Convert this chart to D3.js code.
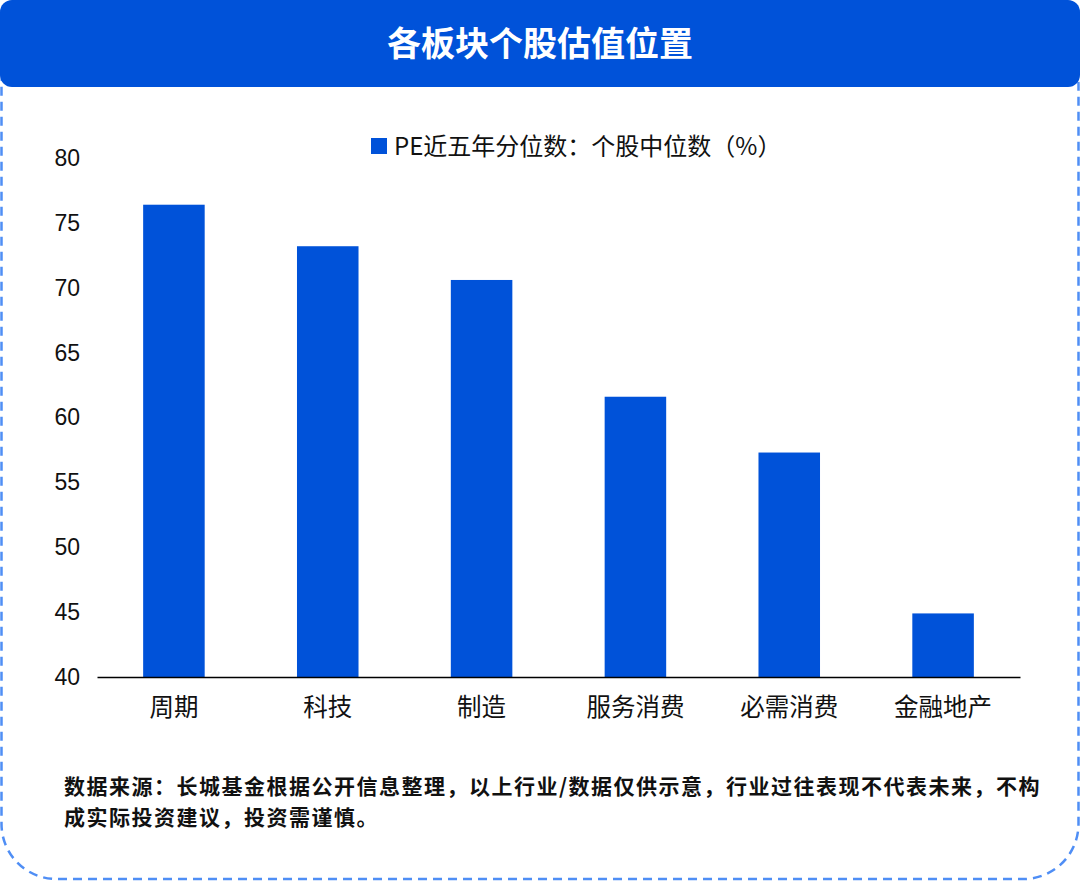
<!DOCTYPE html>
<html>
<head>
<meta charset="utf-8">
<script src="https://cdn.jsdelivr.net/npm/d3@7"></script>
<style>
  html, body { margin: 0; padding: 0; background: #fff; }
  svg { display: block; }
</style>
</head>
<body>
<svg width="1080" height="882"></svg>
<script>
// 数据
const categories = ["周期", "科技", "制造", "服务消费", "必需消费", "金融地产"];
const peValues = [76.4, 73.2, 70.6, 61.6, 57.3, 44.9];
const yTicks = [40, 45, 50, 55, 60, 65, 70, 75, 80];
const titleText = "各板块个股估值位置";
const legendText = "PE近五年分位数：个股中位数（%）";
const noteLines = [
  "数据来源：长城基金根据公开信息整理，以上行业/数据仅供示意，行业过往表现不代表未来，不构",
  "成实际投资建议，投资需谨慎。"
];

const svg = d3.select("svg"),
    width = +svg.attr("width"),
    height = +svg.attr("height");

const blue = "#0052d9";
const cjk = "'Noto Sans CJK SC', 'Noto Sans', sans-serif";

// 虚线外框
svg.append("rect")
    .attr("x", 1.5)
    .attr("y", 30)
    .attr("width", width - 3)
    .attr("height", 849)
    .attr("rx", 55)
    .attr("fill", "none")
    .attr("stroke", "#4f8ef5")
    .attr("stroke-width", 2.5)
    .attr("stroke-dasharray", "9 6");

// 标题栏
svg.append("rect")
    .attr("x", 0)
    .attr("y", 0)
    .attr("width", width)
    .attr("height", 87)
    .attr("rx", 12)
    .attr("fill", blue);

svg.append("text")
    .attr("x", width / 2)
    .attr("y", 44)
    .attr("dy", "0.36em")
    .attr("text-anchor", "middle")
    .attr("fill", "#fff")
    .style("font-family", cjk)
    .style("font-size", "34px")
    .style("font-weight", 700)
    .text(titleText);

// 比例尺
const x = d3.scaleBand()
    .domain(categories)
    .range([97, 1020])
    .paddingInner(0.6)
    .paddingOuter(0.3);

const y = d3.scaleLinear()
    .domain([40, 80])
    .range([677, 158]);

// 柱子
svg.append("g")
    .selectAll("rect")
    .data(categories)
    .enter().append("rect")
    .attr("x", d => x(d))
    .attr("y", (d, i) => y(peValues[i]))
    .attr("width", x.bandwidth())
    .attr("height", (d, i) => y(40) - y(peValues[i]))
    .attr("fill", blue);

// y 轴
const yAxis = svg.append("g")
    .attr("transform", "translate(88,0)")
    .call(d3.axisLeft(y).tickValues(yTicks).tickSize(0).tickPadding(8));
yAxis.select(".domain").remove();
yAxis.selectAll("text")
    .style("font-family", "'Liberation Sans', Arial, sans-serif")
    .style("font-size", "23px")
    .attr("fill", "#111");

// x 轴
const xAxis = svg.append("g")
    .attr("transform", `translate(0,${y(40)})`)
    .call(d3.axisBottom(x).tickSize(0).tickSizeOuter(0));
xAxis.select(".domain")
    .attr("stroke", "#000")
    .attr("stroke-width", 1.6);
xAxis.selectAll("text")
    .attr("y", 30)
    .attr("dy", "0.36em")
    .style("font-family", cjk)
    .style("font-size", "24.5px")
    .attr("fill", "#111");

// 图例
svg.append("rect")
    .attr("x", 371)
    .attr("y", 138)
    .attr("width", 16)
    .attr("height", 16)
    .attr("fill", blue);

svg.append("text")
    .attr("x", 394)
    .attr("y", 146)
    .attr("dy", "0.36em")
    .style("font-family", cjk)
    .style("font-size", "24px")
    .attr("fill", "#111")
    .text(legendText);

// 注释
svg.append("g")
    .selectAll("text")
    .data(noteLines)
    .enter().append("text")
    .attr("x", 64)
    .attr("y", (d, i) => 786 + i * 31)
    .attr("dy", "0.36em")
    .style("font-family", cjk)
    .style("font-size", "21px")
    .style("letter-spacing", "1.5px")
    .style("font-weight", 700)
    .attr("fill", "#111")
    .text(d => d);
</script>
</body>
</html>
